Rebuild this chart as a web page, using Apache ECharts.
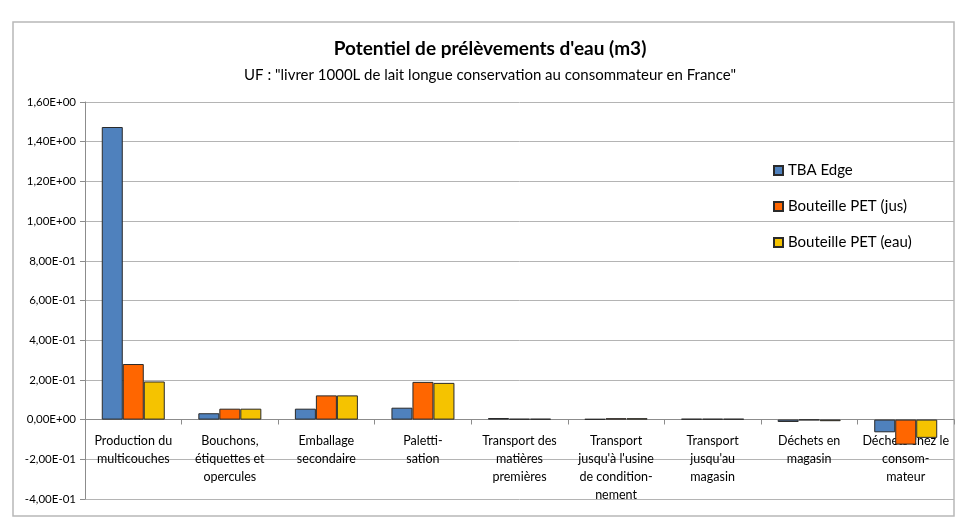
<!DOCTYPE html>
<html><head><meta charset="utf-8">
<script src="https://cdn.jsdelivr.net/npm/echarts@6/dist/echarts.min.js"></script>
<style>html,body{margin:0;padding:0;background:#fff}#c{width:972px;height:532px}</style>
</head><body><div id="c"></div>
<script>
const categories = ["Production du\nmulticouches", "Bouchons,\nétiquettes et\nopercules", "Emballage\nsecondaire", "Paletti-\nsation", "Transport des\nmatières\npremières", "Transport\njusqu'à l'usine\nde condition-\nnement", "Transport\njusqu'au\nmagasin", "Déchets en\nmagasin", "Déchets chez le\nconsom-\nmateur"];
const seriesNames = ["TBA Edge", "Bouteille PET (jus)", "Bouteille PET (eau)"];
const tbaEdge = [1.474, 0.032, 0.055, 0.060, 0.008, 0.003, 0.004, -0.012, -0.064];
const petJus = [0.280, 0.055, 0.122, 0.190, 0.004, 0.007, 0.004, -0.003, -0.126];
const petEau = [0.192, 0.055, 0.122, 0.185, 0.004, 0.007, 0.004, -0.008, -0.092];
const colors = ["#4F81BD", "#FF6600", "#F5C300"];

function fmt(v) {
  if (Math.abs(v) < 1e-12) return "0,00E+00";
  let e = Math.floor(Math.log10(Math.abs(v)) + 1e-9);
  let m = v / Math.pow(10, e);
  if (Math.abs(m) >= 9.995) { m /= 10; e += 1; }
  const es = (e < 0 ? "-" : "+") + String(Math.abs(e)).padStart(2, "0");
  return m.toFixed(2).replace(".", ",") + "E" + es;
}

const font = "Lato, 'Open Sans', sans-serif";
const chart = echarts.init(document.getElementById('c'), null, {renderer: 'canvas'});
const data = [tbaEdge, petJus, petEau];
chart.setOption({
  animation: false,
  backgroundColor: '#fff',
  textStyle: {fontFamily: font},
  title: {
    text: 'Potentiel de prélèvements d\'eau (m3)',
    subtext: 'UF : "livrer 1000L de lait longue conservation au consommateur en France"',
    left: 485, textAlign: 'center', top: 34, itemGap: 10,
    textStyle: {fontFamily: font, fontSize: 19, fontWeight: 'bold', color: '#000'},
    subtextStyle: {fontFamily: font, fontSize: 15, color: '#000'}
  },
  graphic: [{
    type: 'rect', shape: {x: 13, y: 22, width: 941, height: 494},
    style: {fill: 'none', stroke: '#b8b8b8', lineWidth: 1.5}, z: -1, silent: true
  }],
  legend: {
    orient: 'vertical', left: 768, top: 158, itemGap: 21,
    itemWidth: 9, itemHeight: 9, icon: 'rect',
    textStyle: {fontFamily: font, fontSize: 15, color: '#000'},
    data: seriesNames
  },
  grid: {left: 85, right: 18, top: 102, bottom: 33, containLabel: false, outerBoundsMode: 'none'},
  xAxis: {
    type: 'category', data: categories, position: 'bottom', offset: -79.5,
    axisLine: {onZero: false, lineStyle: {color: '#8c8c8c', width: 1}},
    axisTick: {show: true, length: 5, inside: false, lineStyle: {color: '#8c8c8c'}},
    axisLabel: {interval: 0, margin: 12, fontFamily: font, fontSize: 12.5, color: '#000', lineHeight: 18},
    z: 1
  },
  yAxis: {
    type: 'value', min: -0.4, max: 1.6, interval: 0.2,
    axisLine: {show: true, lineStyle: {color: '#8c8c8c'}},
    axisTick: {show: true, length: 5, lineStyle: {color: '#8c8c8c'}},
    splitLine: {show: true, lineStyle: {color: '#b4b4b4', width: 1}},
    axisLabel: {formatter: fmt, fontFamily: font, fontSize: 11.5, color: '#000', margin: 9}
  },
  series: seriesNames.map((n, i) => ({
    name: n, type: 'bar', data: data[i], barWidth: 21, barGap: '0%',
    itemStyle: {color: colors[i], borderColor: '#2a2a2a', borderWidth: 1},
    z: 3
  }))
});
</script></body></html>
